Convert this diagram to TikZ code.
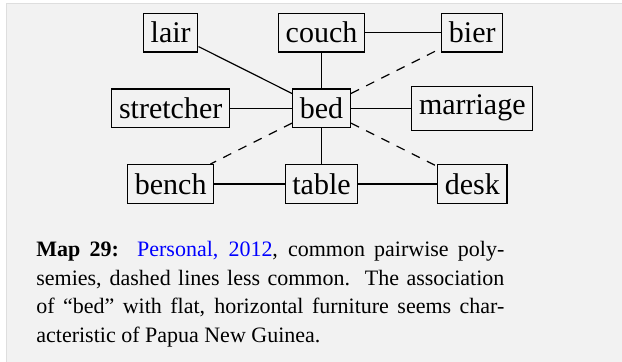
\documentclass[tikz,border=0pt]{standalone}
\usepackage{fontspec}
\setmainfont{Liberation Serif}
\definecolor{mygray}{RGB}{242,242,242}
\definecolor{myrule}{RGB}{222,222,222}
\definecolor{myblue}{RGB}{0,0,255}
\tikzset{
  word/.style={draw, inner xsep=3.6pt, inner ysep=4.4pt, line width=0.6pt,
    font=\fontsize{15}{18}\selectfont},
  link/.style={line width=0.6pt},
  weaklink/.style={line width=0.6pt, dash pattern=on 4.5pt off 4pt},
  caption/.style={inner sep=0, anchor=north west, text width=234pt,
    align=justify, font=\fontsize{11}{14.35}\selectfont}
}

\begin{document}
\begin{tikzpicture}

\useasboundingbox (-5.65,-4.458) rectangle (5.281,1.903);
\fill[mygray] (-5.527,-4.6) rectangle (5.5,1.833);
\draw[myrule, line width=0.5pt] (-5.527,-4.6) -- (-5.527,1.833) -- (5.5,1.833);


\node [word] (lair) at (-2.65,1.33) {lair};
\node [word] (couch) at (0,1.33) {couch};
\node [word] (bier) at (2.65,1.33) {bier};

\node [word] (stretcher) at (-2.65,0) {stretcher};
\node [word] (bed) at (0,0) {bed};
\node [word] (marriage) at (2.65,0) {marriage};

\node [word] (bench) at (-2.65,-1.33) {bench};
\node [word] (table) at (0,-1.33) {table};
\node [word] (desk) at (2.65,-1.33) {desk};


\draw[link] (lair) -- (bed);
\draw[link] (couch) -- (bed);
\draw[link] (couch) -- (bier);
\draw[link] (stretcher) -- (bed);
\draw[link] (bed) -- (marriage);
\draw[link] (bed) -- (table);
\draw[link] (bench) -- (table);
\draw[link] (table) -- (desk);

\draw[weaklink] (bed) -- (bier);
\draw[weaklink] (bed) -- (bench);
\draw[weaklink] (bed) -- (desk);


\node [caption] (cap) at (-5.018,-2.33) {\textbf{Map 29:}\ \ \textcolor{myblue}{Personal, 2012}, common pairwise poly-\linebreak
semies, dashed lines less common.\ \ The association\linebreak
of “bed” with flat, horizontal furniture seems char-\linebreak
acteristic of Papua New Guinea.};

\end{tikzpicture}
\end{document}
